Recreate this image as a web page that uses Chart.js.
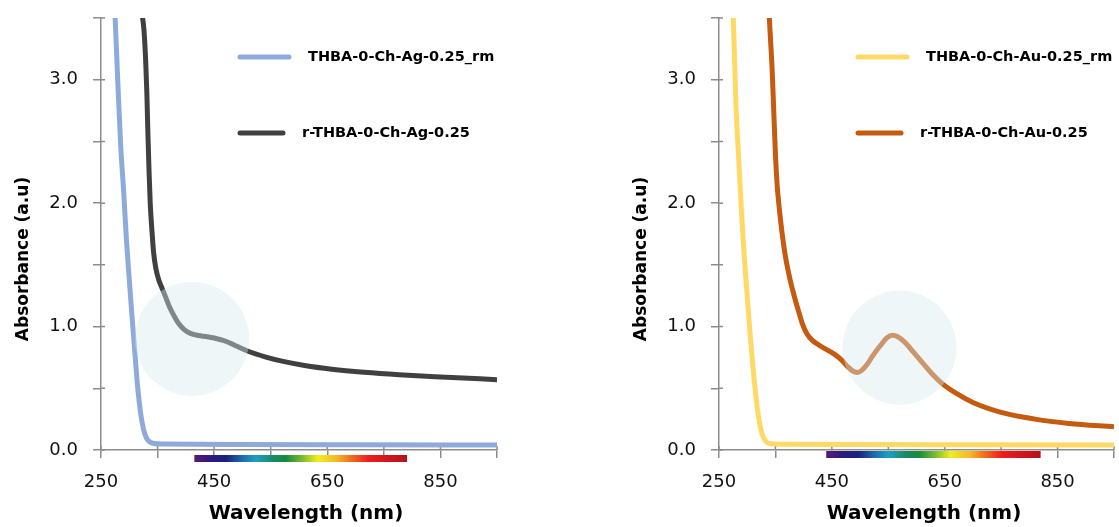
<!DOCTYPE html>
<html>
<head>
<meta charset="utf-8">
<script src="https://cdn.jsdelivr.net/npm/chart.js@4.4.1/dist/chart.umd.min.js"></script>
<style>
  body { margin: 0; background: #fff; }
  .panel { position: absolute; top: 0; height: 527px; }
  #panelAg { left: 0; width: 520px; }
  #panelAu { left: 618px; width: 501px; }
</style>
</head>
<body>
<div class="panel" id="panelAg"><canvas id="chartAg"></canvas></div>
<div class="panel" id="panelAu"><canvas id="chartAu"></canvas></div>
<script>
// wavelength (nm) / absorbance (a.u)
const wlAgRm = [272, 275, 280, 285, 290, 295, 300, 305, 310, 315, 320, 325, 330, 335, 342, 360, 500, 700, 950];
const absAgRm = [3.8, 3.5, 2.95, 2.45, 2.1, 1.7, 1.38, 1.07, 0.78, 0.5, 0.3, 0.17, 0.1, 0.07, 0.055, 0.048, 0.045, 0.043, 0.04];

const wlAgR = [322, 326, 329, 331, 333, 335, 337, 340, 343, 347, 352, 358, 365, 372, 380, 388, 397, 408, 422, 438, 452, 468, 488, 510, 540, 570, 610, 658, 715, 777, 860, 950];
const absAgR = [3.55, 3.4, 3.15, 2.9, 2.55, 2.25, 2.0, 1.78, 1.6, 1.47, 1.38, 1.31, 1.23, 1.15, 1.08, 1.02, 0.975, 0.945, 0.928, 0.918, 0.905, 0.885, 0.845, 0.8, 0.755, 0.72, 0.685, 0.655, 0.63, 0.61, 0.59, 0.57];

const wlAuRm = [272, 275, 280, 285, 290, 295, 300, 305, 310, 315, 320, 325, 330, 335, 342, 360, 500, 700, 950];
const absAuRm = [3.8, 3.55, 2.8, 2.35, 1.92, 1.55, 1.25, 0.95, 0.68, 0.45, 0.27, 0.15, 0.09, 0.062, 0.05, 0.046, 0.044, 0.042, 0.04];

const wlAuR = [338, 341, 344, 347, 350, 353, 357, 362, 368, 375, 382, 390, 398, 406, 415, 427, 440, 455, 467, 478, 487, 495, 503, 512, 522, 535, 548, 557, 566, 580, 595, 610, 625, 645, 670, 700, 750, 810, 870, 950];
const absAuR = [3.6, 3.35, 3.1, 2.75, 2.4, 2.15, 1.95, 1.75, 1.56, 1.4, 1.27, 1.14, 1.02, 0.94, 0.89, 0.85, 0.815, 0.775, 0.73, 0.675, 0.64, 0.628, 0.645, 0.69, 0.76, 0.84, 0.91, 0.93, 0.92, 0.87, 0.79, 0.71, 0.63, 0.54, 0.46, 0.385, 0.305, 0.25, 0.215, 0.188];

const labelsAg = ['THBA-0-Ch-Ag-0.25_rm', 'r-THBA-0-Ch-Ag-0.25'];
const labelsAu = ['THBA-0-Ch-Au-0.25_rm', 'r-THBA-0-Ch-Au-0.25'];

// highlighted band (wavelength, absorbance) and visible-spectrum strip range
const highlightAg = [411, 0.9];
const highlightAu = [570, 0.83];
const spectrumAg = [415, 791];
const spectrumAu = [440, 820];

const xTickLabels = [250, 450, 650, 850];
const yTickLabels = [0, 1, 2, 3];

Chart.defaults.font.family = "'DejaVu Sans', sans-serif";

const axisColor = '#8c8c8c';
const toPoints = (xs, ys) => xs.map((x, i) => ({ x: x, y: ys[i] }));

const spectrumStops = [
  [0.0, '#5e1675'], [0.08, '#2a1a80'], [0.15, '#1a237e'], [0.23, '#1f6fb0'],
  [0.29, '#1e9fc0'], [0.37, '#1a8a6a'], [0.43, '#178a3c'], [0.51, '#7fbb32'],
  [0.58, '#eeef1e'], [0.67, '#f5b823'], [0.74, '#f26a1e'], [0.82, '#ee1d1d'],
  [1.0, '#b5121b'],
];

const decorPlugin = {
  id: 'decor',
  beforeDatasetsDraw(chart) {
    // tick marks also cross into the plot, like the original
    const { ctx, scales: { x, y } } = chart;
    ctx.save();
    ctx.strokeStyle = axisColor;
    ctx.lineWidth = 1.5;
    ctx.beginPath();
    x.ticks.forEach((t) => {
      const px = x.getPixelForValue(t.value);
      ctx.moveTo(px, y.bottom);
      ctx.lineTo(px, y.bottom - 4);
    });
    y.ticks.forEach((t) => {
      const py = y.getPixelForValue(t.value);
      ctx.moveTo(x.left, py);
      ctx.lineTo(x.left + 4, py);
    });
    ctx.stroke();
    ctx.restore();
  },
  afterDatasetsDraw(chart, args, opts) {
    const { ctx, scales: { x, y } } = chart;
    // translucent highlight circle over the band
    ctx.save();
    ctx.beginPath();
    ctx.arc(x.getPixelForValue(opts.circle[0]), y.getPixelForValue(opts.circle[1]), 57, 0, Math.PI * 2);
    ctx.fillStyle = 'rgba(214, 233, 238, 0.42)';
    ctx.fill();
    ctx.restore();
  },
  afterDraw(chart, args, opts) {
    const { ctx, chartArea, scales: { x, y } } = chart;
    ctx.save();
    // spectrum strip under the axis
    const x0 = x.getPixelForValue(opts.spectrum[0]);
    const x1 = x.getPixelForValue(opts.spectrum[1]);
    const grad = ctx.createLinearGradient(x0, 0, x1, 0);
    spectrumStops.forEach(([p, c]) => grad.addColorStop(p, c));
    ctx.fillStyle = grad;
    ctx.fillRect(x0, y.bottom + opts.stripOffset, x1 - x0, 7);

    // legend
    chart.data.datasets.forEach((ds, i) => {
      const ly = [57, 133][i];
      const lineEnd = [289, 283][i];
      const textX = [308, 302][i];
      ctx.strokeStyle = ds.borderColor;
      ctx.lineWidth = 5;
      ctx.lineCap = 'round';
      ctx.beginPath();
      ctx.moveTo(240, ly);
      ctx.lineTo(lineEnd, ly);
      ctx.stroke();
      ctx.fillStyle = '#000';
      ctx.font = "bold 14.5px 'DejaVu Sans'";
      ctx.textBaseline = 'middle';
      ctx.textAlign = 'left';
      ctx.fillText(ds.label, textX, ly);
    });

    // axis titles
    ctx.fillStyle = '#000';
    ctx.textAlign = 'center';
    ctx.textBaseline = 'middle';
    ctx.font = "bold 20px 'DejaVu Sans'";
    ctx.fillText('Wavelength (nm)', chartArea.left + 205, 514);
    ctx.translate(24, 259);
    ctx.rotate(-Math.PI / 2);
    ctx.font = "bold 17px 'DejaVu Sans'";
    ctx.fillText('Absorbance (a.u)', 0, 0);
    ctx.restore();
  },
};

function buildChart(canvasId, labels, series, colors, circle, spectrum, stripOffset, rightPad) {
  const context = document.getElementById(canvasId).getContext('2d');
  return new Chart(context, {
    type: 'line',
    data: {
      datasets: series.map((pts, i) => ({
        label: labels[i],
        data: pts,
        borderColor: colors[i],
        borderWidth: 5,
        pointRadius: 0,
        tension: 0.4,
        cubicInterpolationMode: 'monotone',
        clip: 0,
      })),
    },
    options: {
      responsive: true,
      maintainAspectRatio: false,
      animation: false,
      layout: { padding: { top: 18, right: rightPad, left: 0, bottom: 0 } },
      plugins: {
        legend: { display: false },
        tooltip: { enabled: false },
        decor: { circle: circle, spectrum: spectrum, stripOffset: stripOffset },
      },
      scales: {
        x: {
          type: 'linear',
          min: 250,
          max: 950,
          afterFit: (scale) => {
            scale.height = 77;
            scale.paddingLeft = 0;
            scale.paddingRight = 0;
          },
          ticks: {
            stepSize: 100,
            autoSkip: false,
            maxRotation: 0,
            color: '#111',
            font: { size: 18 },
            padding: 14,
            callback: (v) => (xTickLabels.includes(v) ? String(v) : ''),
          },
          grid: { drawOnChartArea: false, drawTicks: true, tickLength: 8, color: axisColor, lineWidth: 1.5 },
          border: { display: true, color: axisColor, width: 1.5 },
        },
        y: {
          min: 0,
          max: 3.5,
          afterFit: (scale) => {
            scale.width = 101;
            scale.paddingTop = 0;
            scale.paddingBottom = 0;
          },
          ticks: {
            stepSize: 0.5,
            autoSkip: false,
            color: '#111',
            font: { size: 18 },
            padding: 15,
            callback: (v) => (yTickLabels.includes(v) ? v.toFixed(1) : ''),
          },
          grid: { drawOnChartArea: false, drawTicks: true, tickLength: 8, color: axisColor, lineWidth: 1.5 },
          border: { display: true, color: axisColor, width: 1.5 },
        },
      },
    },
    plugins: [decorPlugin],
  });
}

buildChart('chartAg', labelsAg,
  [toPoints(wlAgRm, absAgRm), toPoints(wlAgR, absAgR)],
  ['#8eaadb', '#404040'], highlightAg, spectrumAg, 5, 23);

buildChart('chartAu', labelsAu,
  [toPoints(wlAuRm, absAuRm), toPoints(wlAuR, absAuR)],
  ['#ffd966', '#c55a11'], highlightAu, spectrumAu, 1, 5);
</script>
</body>
</html>
